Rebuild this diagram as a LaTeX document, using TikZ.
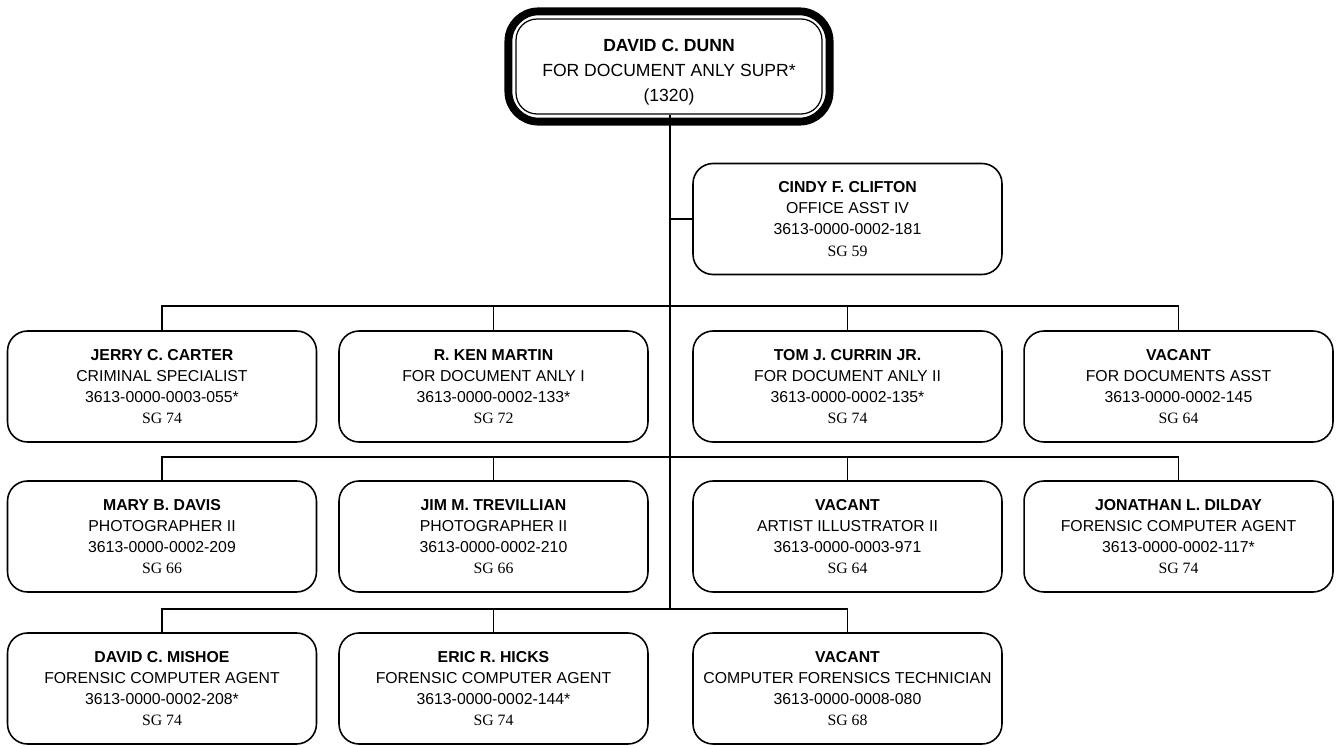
\documentclass[tikz,border=0pt]{standalone}
\usepackage{fontspec}
\setmainfont{Liberation Sans}
\newfontfamily\sgfont{Liberation Serif}
\usetikzlibrary{positioning}

\newcommand{\post}[4]{\textbf{#1}\\#2\\#3\\{\sgfont #4}}

\begin{document}
\begin{tikzpicture}[x=0.02cm, y=-0.02cm,
    box/.style={draw, line width=0.9pt, rounded corners=0.4cm, minimum width=6.18cm,
      minimum height=2.22cm, inner sep=0pt, align=center, font=\fontsize{9}{12}\selectfont},
    chief/.style={draw, line width=0.7pt, rounded corners=0.42cm, minimum width=6.12cm,
      minimum height=1.9cm, inner sep=0pt, align=center, font=\fontsize{10}{14.2}\selectfont},
    wire/.style={line width=0.9pt}]
    \useasboundingbox (0,0) rectangle (1336,746);

    % Head of the unit
    \node[chief] (dunn) at (669,66.5) {\rule{0pt}{13pt}\textbf{DAVID C. DUNN}\\FOR DOCUMENT ANLY SUPR*\\(1320)};
    \draw[line width=4.5pt, rounded corners=0.6cm] ([shift={(-7,-7)}]dunn.north west) rectangle ([shift={(7,7)}]dunn.south east);

    % Staff position
    \node[box] (clifton) at (847.5,219) {\post{CINDY F. CLIFTON}{OFFICE ASST IV}{3613-0000-0002-181}{SG 59}};

    % First row
    \node[box] (carter) at (162,386.5)    {\post{JERRY C. CARTER}{CRIMINAL SPECIALIST}{3613-0000-0003-055*}{SG 74}};
    \node[box] (martin) at (493.5,386.5)  {\post{R. KEN MARTIN}{FOR DOCUMENT ANLY I}{3613-0000-0002-133*}{SG 72}};
    \node[box] (currin) at (847.5,386.5)  {\post{TOM J. CURRIN JR.}{FOR DOCUMENT ANLY II}{3613-0000-0002-135*}{SG 74}};
    \node[box] (vacasst) at (1178.5,386.5) {\post{VACANT}{FOR DOCUMENTS ASST}{3613-0000-0002-145}{SG 64}};

    % Second row
    \node[box] (davis) at (162,536.5)     {\post{MARY B. DAVIS}{PHOTOGRAPHER II}{3613-0000-0002-209}{SG 66}};
    \node[box] (trevillian) at (493.5,536.5) {\post{JIM M. TREVILLIAN}{PHOTOGRAPHER II}{3613-0000-0002-210}{SG 66}};
    \node[box] (vacart) at (847.5,536.5)  {\post{VACANT}{ARTIST ILLUSTRATOR II}{3613-0000-0003-971}{SG 64}};
    \node[box] (dilday) at (1178.5,536.5) {\post{JONATHAN L. DILDAY}{FORENSIC COMPUTER AGENT}{3613-0000-0002-117*}{SG 74}};

    % Third row
    \node[box] (mishoe) at (162,688.5)    {\post{DAVID C. MISHOE}{FORENSIC COMPUTER AGENT}{3613-0000-0002-208*}{SG 74}};
    \node[box] (hicks) at (493.5,688.5)   {\post{ERIC R. HICKS}{FORENSIC COMPUTER AGENT}{3613-0000-0002-144*}{SG 74}};
    \node[box] (vactech) at (847.5,688.5) {\post{VACANT}{COMPUTER FORENSICS TECHNICIAN}{3613-0000-0008-080}{SG 68}};

    % Bus levels
    \coordinate (bus1) at (670,306);
    \coordinate (bus2) at (670,457);
    \coordinate (bus3) at (670,609);

    % Trunk and staff link
    \draw[wire] (dunn.south -| bus1) -- (bus3);
    \draw[wire] (clifton.west) -- (clifton.west -| bus1);

    % Row buses
    \draw[wire] (carter.north) -- (carter.north |- bus1) -| (vacasst.north);
    \draw[wire] (martin.north) -- (martin.north |- bus1);
    \draw[wire] (currin.north) -- (currin.north |- bus1);

    \draw[wire] (davis.north) -- (davis.north |- bus2) -| (dilday.north);
    \draw[wire] (trevillian.north) -- (trevillian.north |- bus2);
    \draw[wire] (vacart.north) -- (vacart.north |- bus2);

    \draw[wire] (mishoe.north) -- (mishoe.north |- bus3) -| (vactech.north);
    \draw[wire] (hicks.north) -- (hicks.north |- bus3);
\end{tikzpicture}
\end{document}
